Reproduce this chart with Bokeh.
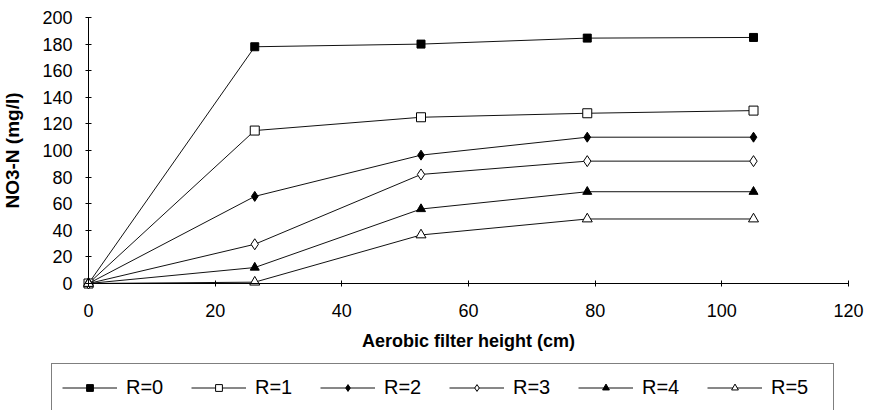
from bokeh.plotting import figure
from bokeh.models import Range1d, FixedTicker, Legend, LegendItem
from bokeh.embed import file_html
from bokeh.resources import INLINE

# ---- data ----
height_cm = [0, 26.25, 52.5, 78.75, 105]
r0 = [0, 178, 180, 184.5, 185]
r1 = [0, 115, 125, 128, 130]
r2 = [0, 65.5, 96.5, 110, 110]
r3 = [0, 29.5, 82, 92, 92]
r4 = [0, 12, 56, 69, 69]
r5 = [0, 1, 36.5, 48.5, 48.5]
series_labels = ["R=0", "R=1", "R=2", "R=3", "R=4", "R=5"]
x_ticks = [0, 20, 40, 60, 80, 100, 120]
y_ticks = [0, 20, 40, 60, 80, 100, 120, 140, 160, 180, 200]

FONT = "Liberation Sans"

# canvas layout (pixels): the frame fills the whole canvas; the axes sit at 0
W, H = 870, 410
AX_LEFT, AX_RIGHT = 88, 848      # canvas x of x=0 and x=120
AX_TOP, AX_BOTTOM = 17, 283      # canvas y of y=200 and y=0
x0, x1 = x_ticks[0], x_ticks[-1]
y0, y1 = y_ticks[0], y_ticks[-1]
kx = (AX_RIGHT - AX_LEFT) / (x1 - x0)
ky = (AX_BOTTOM - AX_TOP) / (y1 - y0)
x_range = Range1d(x0 - AX_LEFT / kx, x1 + (W - AX_RIGHT) / kx)
y_range = Range1d(y0 - (H - AX_BOTTOM) / ky, y1 + AX_TOP / ky)

p = figure(width=W, height=H, x_range=x_range, y_range=y_range,
           output_backend="svg", toolbar_location=None,
           min_border_left=0, min_border_right=0,
           min_border_top=0, min_border_bottom=0,
           x_axis_label="Aerobic filter height (cm)",
           y_axis_label="NO3-N (mg/l)")
p.outline_line_color = None
p.xgrid.visible = False
p.ygrid.visible = False

for ax in (p.xaxis, p.yaxis):
    ax.axis_line_color = "black"
    ax.major_tick_line_color = "black"
    ax.minor_tick_line_color = None
    ax.major_label_text_font = FONT
    ax.major_label_text_font_size = "18px"
    ax.major_label_text_color = "black"
    ax.axis_label_text_font = FONT
    ax.axis_label_text_font_style = "bold"
    ax.axis_label_text_color = "black"
p.xaxis.axis_label_text_font_size = "18px"
p.yaxis.axis_label_text_font_size = "19px"

p.xaxis.ticker = FixedTicker(ticks=x_ticks)
p.yaxis.ticker = FixedTicker(ticks=y_ticks)
p.xaxis.fixed_location = 0
p.yaxis.fixed_location = 0
p.xaxis.bounds = (x0, x1)
p.yaxis.bounds = (y0, y1)
p.xaxis.major_tick_in = 3
p.xaxis.major_tick_out = 3
p.xaxis.major_label_standoff = 17
p.xaxis.axis_label_standoff = 11
p.yaxis.major_tick_in = 3
p.yaxis.major_tick_out = 3
p.yaxis.major_label_standoff = 13
p.yaxis.axis_label_standoff = 16

styles = [
    ("square", "black", 8),
    ("square", "white", 9),
    ("diamond", "black", 10),
    ("diamond", "white", 11),
    ("triangle", "black", 9),
    ("triangle", "white", 10),
]
items = []
for ys, lab, (mk, fill, sz) in zip([r0, r1, r2, r3, r4, r5], series_labels, styles):
    ln = p.line(height_cm, ys, line_color="#111111", line_width=1)
    sc = p.scatter(height_cm, ys, marker=mk, size=sz, fill_color=fill,
                   line_color="black", line_width=1)
    items.append(LegendItem(label=lab, renderers=[ln, sc]))

legend = Legend(items=items, orientation="horizontal", location=(51, -1),
                glyph_width=55, glyph_height=17, label_standoff=9,
                label_width=52, label_height=26, spacing=13, padding=10,
                margin=0, border_line_color="black", border_line_width=1,
                label_text_font=FONT, label_text_font_size="20px",
                label_text_color="black", background_fill_alpha=1)
p.add_layout(legend)

open("out.html", "w").write(file_html(p, INLINE))
